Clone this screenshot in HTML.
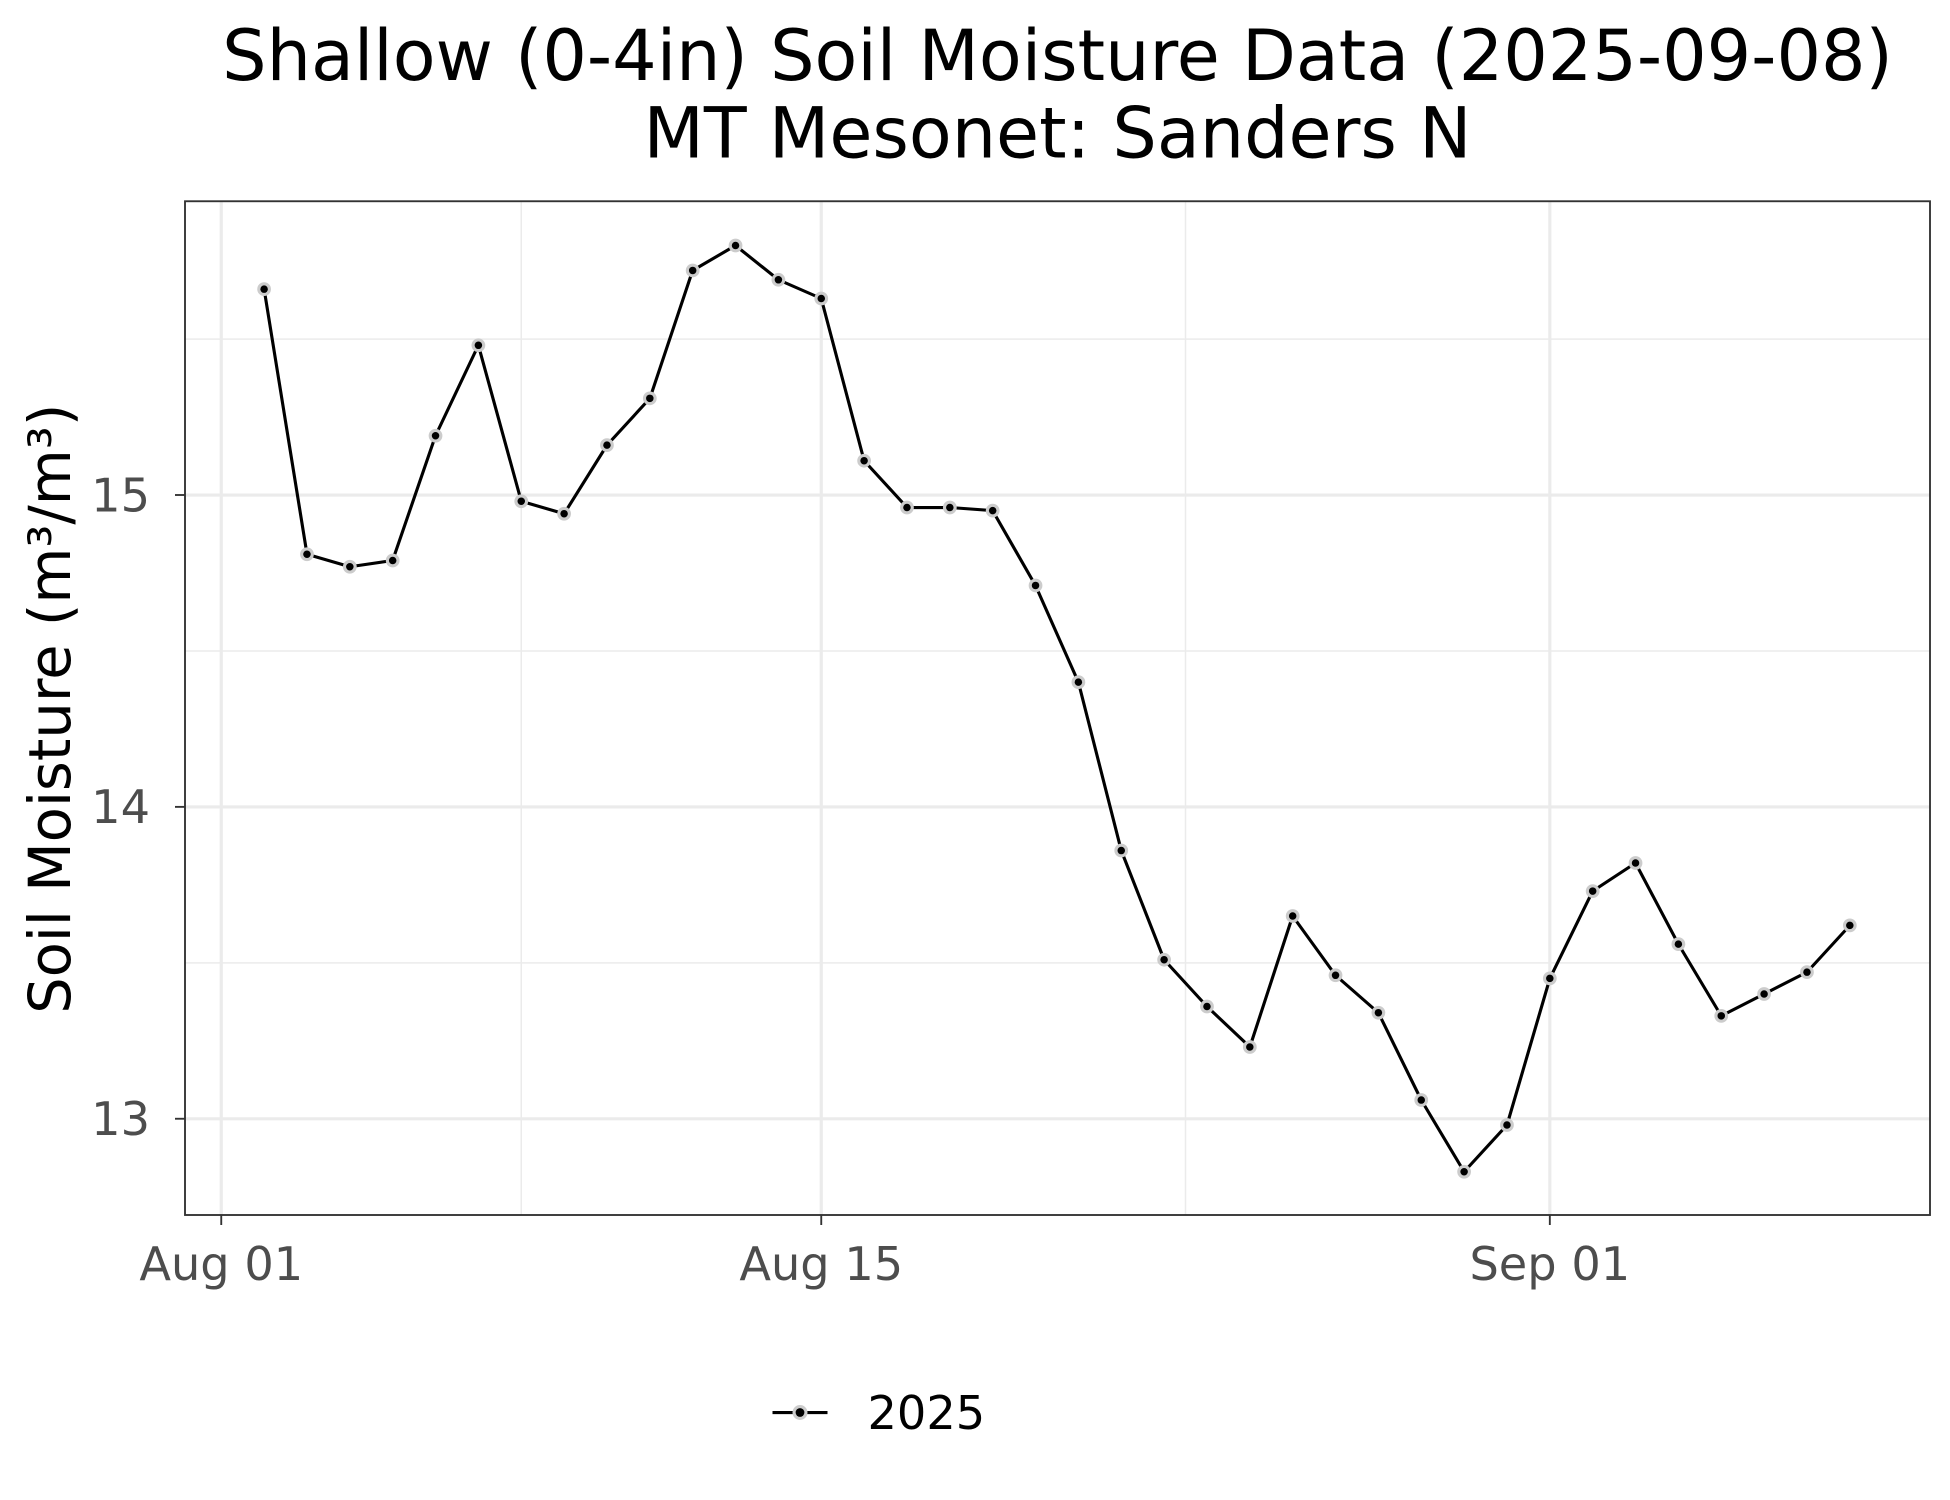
<!DOCTYPE html>
<html><head><meta charset="utf-8"><style>
html,body{margin:0;padding:0;background:#fff;}
svg{display:block;font-family:"DejaVu Sans","Liberation Sans",sans-serif;}
</style></head><body>
<svg id="chart" width="1950" height="1500" viewBox="0 0 1560 1200" xmlns="http://www.w3.org/2000/svg">
<rect width="1560" height="1200" fill="#fff"/>
<text x="846" y="64" text-anchor="middle" font-size="56">Shallow (0-4in) Soil Moisture Data (2025-09-08)</text>
<text x="846" y="126" text-anchor="middle" font-size="56">MT Mesonet: Sanders N</text>
<g id="grid"></g>
<g id="series"></g>
<rect x="148" y="161" width="1396" height="811" fill="none" stroke="#333" stroke-width="1.5"/>
<g id="axes"></g>
<text transform="translate(56,567) rotate(-90)" text-anchor="middle" font-size="46">Soil Moisture (m³/m³)</text>
<g>
<line x1="618" y1="1130" x2="662" y2="1130" stroke="#000" stroke-width="2.5"/>
<circle cx="640" cy="1130" r="6" fill="#ccc"/>
<circle cx="640" cy="1130" r="3.5" fill="#000"/>
<text x="694" y="1143" font-size="37">2025</text>
</g>
</svg>
<script>
const values = [15.66,14.81,14.77,14.79,15.19,15.48,14.98,14.94,15.16,15.31,15.72,15.80,15.69,15.63,15.11,14.96,14.96,14.95,14.71,14.40,13.86,13.51,13.36,13.23,13.65,13.46,13.34,13.06,12.83,12.98,13.45,13.73,13.82,13.56,13.33,13.40,13.47,13.62];
const startDay = 2; // Aug 02 (day index, Aug 01 = 1)
const yTicks = [13,14,15];
const yMinor = [13.5,14.5,15.5];
const xTickDays = [1,15,32];
const xTickLabels = ["Aug 01","Aug 15","Sep 01"];
const xMinorDays = [8,23.5];

const NS="http://www.w3.org/2000/svg";
const L=148,R=1544,T=161,B=972;
const xs=d=>177+(d-1)*(657-177)/14;
const ys=v=>396-(v-15)*249.5;
function mk(tag,attrs,parent){const e=document.createElementNS(NS,tag);for(const k in attrs)e.setAttribute(k,attrs[k]);parent.appendChild(e);return e;}
const grid=document.getElementById('grid'),axes=document.getElementById('axes'),series=document.getElementById('series');
yMinor.forEach(v=>{const e=mk('line',{x1:L,x2:R,y1:ys(v),y2:ys(v),stroke:'#ebebeb','stroke-width':1.2},grid);

});
xMinorDays.forEach(d=>{const e=mk('line',{x1:xs(d),x2:xs(d),y1:T,y2:B,stroke:'#ebebeb','stroke-width':1.2},grid);

});
yTicks.forEach(v=>{const e=mk('line',{x1:L,x2:R,y1:ys(v),y2:ys(v),stroke:'#ebebeb','stroke-width':2.5},grid);


const t=mk('line',{x1:L-8,x2:L,y1:ys(v),y2:ys(v),stroke:'#333','stroke-width':1.5},axes);


const l=mk('text',{x:L-28,y:ys(v)+13,'text-anchor':'end','font-size':37,fill:'#4d4d4d'},axes);l.textContent=v;

});
xTickDays.forEach((d,i)=>{const e=mk('line',{x1:xs(d),x2:xs(d),y1:T,y2:B,stroke:'#ebebeb','stroke-width':2.5},grid);


const t=mk('line',{x1:xs(d),x2:xs(d),y1:B,y2:B+8,stroke:'#333','stroke-width':1.5},axes);


const l=mk('text',{x:xs(d),y:B+52,'text-anchor':'middle','font-size':37,fill:'#4d4d4d'},axes);l.textContent=xTickLabels[i];

});
const pts=values.map((v,i)=>xs(startDay+i).toFixed(1)+','+ys(v).toFixed(1)).join(' ');
const pl=mk('polyline',{points:pts,fill:'none',stroke:'#000','stroke-width':2.5,'stroke-linejoin':'round'},series);


values.forEach((v,i)=>{const g=mk('g',{},series);


mk('circle',{cx:xs(startDay+i),cy:ys(v),r:5.5,fill:'#ccc'},g);
mk('circle',{cx:xs(startDay+i),cy:ys(v),r:3,fill:'#000'},g);});
</script>
</body></html>
